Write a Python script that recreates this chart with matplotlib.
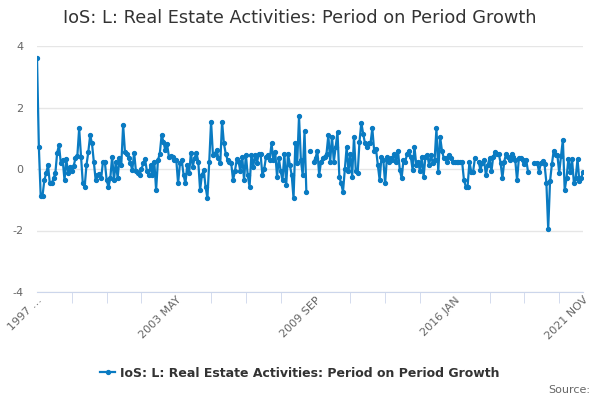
import numpy as np
import matplotlib
matplotlib.use('Agg')
import matplotlib.pyplot as plt
from matplotlib.lines import Line2D

plt.rcParams['axes.unicode_minus'] = False
nan = np.nan

title = 'IoS: L: Real Estate Activities: Period on Period Growth'

# monthly values, 1997 JAN .. 2021 NOV (one row per year)
growth_1997_2004 = [
    3.6, 0.72, -0.87, -0.87, -0.36, -0.14, 0.13, -0.47, -0.47, -0.3, -0.14, 0.53,
    0.78, 0.18, 0.29, -0.36, 0.31, -0.14, 0.08, -0.08, 0.1, 0.35, 0.42, 1.32,
    0.4, -0.47, -0.58, 0.13, 0.56, 1.1, 0.83, 0.24, -0.36, -0.2, -0.15, -0.3,
    0.24, 0.24, -0.36, -0.58, -0.3, 0.4, -0.36, 0.24, -0.3, 0.35, 0.13, 1.43,
    0.56, 0.5, 0.35, 0.18, -0.03, 0.53, -0.08, -0.14, -0.2, 0.0, 0.18, 0.31,
    -0.08, -0.2, 0.13, -0.2, 0.24, -0.68, 0.29, 0.5, 1.1, 0.89, 0.61, 0.8,
    0.4, 0.42, 0.4, 0.29, 0.3, -0.47, 0.18, 0.29, -0.2, -0.47, 0.13, -0.14,
    0.53, 0.08, 0.35, 0.53, 0.24, -0.68, -0.2, -0.03, -0.58, -0.95, 0.24, 1.54,
]
growth_2005_2012 = [
    0.46, 0.5, 0.62, 0.35, 0.18, 1.54, 0.83, 0.5, 0.29, 0.24, 0.18, -0.36,
    -0.08, 0.31, 0.24, -0.08, 0.4, -0.36, 0.46, -0.2, -0.58, 0.46, 0.08, 0.46,
    0.18, 0.5, 0.5, -0.2, 0.0, 0.4, 0.46, 0.29, 0.83, 0.29, 0.56, -0.25,
    0.35, -0.08, -0.36, 0.5, -0.52, 0.5, 0.13, -0.2, -0.95, 0.83, 0.18, 1.72,
    0.29, -0.2, 1.22, -0.74, nan, 0.6, nan, 0.24, 0.35, 0.6, -0.2, 0.24,
    0.35, 0.4, 0.5, 1.1, 0.24, 1.05, 0.24, 0.72, 1.2, -0.25, -0.47, -0.74,
    0.0, 0.72, -0.08, 0.5, -0.25, 1.05, -0.08, -0.14, 0.89, 1.5, 1.15, 0.83,
    0.72, 0.83, 0.83, 1.32, 0.6, 0.66, 0.13, -0.36, 0.4, 0.29, -0.47, 0.4,
]
growth_2013_2021 = [
    0.24, 0.35, 0.29, 0.5, 0.24, 0.6, -0.03, -0.3, 0.29, 0.24, 0.5, 0.6,
    0.4, -0.03, 0.72, 0.13, 0.24, -0.08, 0.4, -0.25, 0.4, 0.46, 0.13, 0.46,
    0.18, 0.29, 1.32, -0.09, 1.05, 0.6, 0.35, 0.35, 0.24, 0.46, 0.35, 0.24,
    0.24, 0.24, 0.24, 0.24, 0.24, -0.35, -0.57, -0.57, 0.24, -0.09, -0.09, 0.35,
    nan, 0.24, -0.03, 0.2, 0.29, -0.2, 0.13, 0.35, -0.08, 0.4, 0.56, 0.5,
    0.5, 0.2, -0.3, 0.24, 0.5, 0.4, 0.3, 0.5, 0.4, 0.29, -0.36, 0.35,
    0.35, 0.29, 0.15, 0.29, -0.09, nan, nan, 0.2, nan, 0.2, -0.09, 0.2,
    0.25, 0.15, -0.44, -1.96, -0.4, 0.15, 0.6, 0.46, 0.46, -0.13, 0.43, 0.95,
    -0.68, -0.3, 0.33, -0.1, 0.33, -0.44, -0.3, 0.33, -0.4, -0.3, -0.09,
]

growth = np.array(growth_1997_2004 + growth_2005_2012 + growth_2013_2021)
months = np.arange(len(growth))

label_pos = [0, 76, 152, 228, 298]
label_text = ['1997 …', '2003 MAY', '2009 SEP', '2016 JAN', '2021 NOV']

blue = '#0a7bc2'
grey = '#666666'

fig = plt.figure(figsize=(6, 4), dpi=100)
ax = fig.add_axes([0.0617, 0.27, 0.91, 0.615])

ax.plot(months, growth, color=blue, lw=1.6, marker='o', ms=2.8, zorder=3)

ax.set_xlim(0, len(growth) - 1)
ax.set_ylim(-4, 4)
ax.set_yticks([-4, -2, 0, 2, 4])
ax.yaxis.grid(True, color='#e6e6e6', lw=1)
ax.set_axisbelow(True)
ax.tick_params(axis='y', length=0, labelsize=8, labelcolor=grey, pad=10)

ax.set_xticks(np.arange(0, len(growth), 19), minor=True)
ax.set_xticks(label_pos)
ax.set_xticklabels(label_text, rotation=45, ha='right', rotation_mode='anchor')
ax.tick_params(axis='x', which='both', length=8, color='#ccd6eb', labelsize=8,
               labelcolor=grey, pad=2)
ax.tick_params(axis='x', which='major', length=0)

for s in ['top', 'right', 'left']:
    ax.spines[s].set_visible(False)
ax.spines['bottom'].set_color('#ccd6eb')

fig.text(0.5, 0.955, title, ha='center', va='center', fontsize=12.8, color='#333333')

h = Line2D([], [], color=blue, lw=1.6, marker='o', ms=2.8)
fig.legend([h], [title], loc='center', bbox_to_anchor=(0.5, 0.067), frameon=False,
           prop={'weight': 'bold', 'size': 9}, handlelength=1.2, handletextpad=0.4,
           labelcolor='#333333')

fig.text(0.983, 0.025, 'Source:', ha='right', va='center', fontsize=8, color=grey)

fig.savefig('out.png', dpi=100)
